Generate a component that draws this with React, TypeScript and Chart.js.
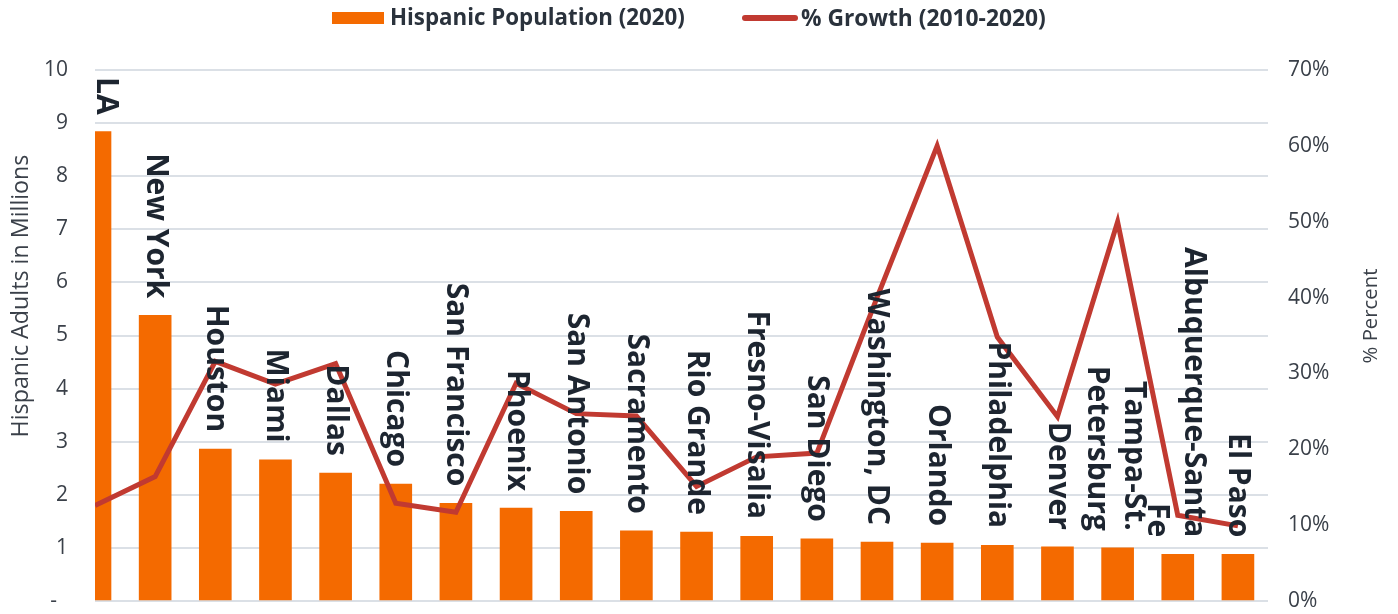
import React, { useEffect, useRef } from 'react';
import { Chart, registerables } from 'chart.js';

Chart.register(...registerables);

// ---- Data ----
const categories: (string | string[])[] = [
  'LA', 'New York', 'Houston', 'Miami', 'Dallas', 'Chicago', 'San Francisco',
  'Phoenix', 'San Antonio', 'Sacramento', 'Rio Grande', 'Fresno-Visalia',
  'San Diego', 'Washington, DC', 'Orlando', 'Philadelphia', 'Denver',
  ['Tampa-St.', 'Petersburg'], ['Albuquerque-Santa', 'Fe'], 'El Paso',
];
const population = [
  8.84, 5.38, 2.86, 2.66, 2.41, 2.2, 1.84, 1.75, 1.69, 1.32,
  1.3, 1.22, 1.17, 1.11, 1.09, 1.05, 1.02, 1.0, 0.88, 0.88,
];
const growth = [
  12.6, 16.4, 31.6, 28.6, 31.3, 12.9, 11.7, 28.7, 24.7, 24.4,
  15.1, 19.0, 19.5, 40.0, 60.0, 34.8, 24.3, 50.0, 11.3, 9.9,
];
const seriesNames = ['Hispanic Population (2020)', '% Growth (2010-2020)'];
const leftAxisTitle = 'Hispanic Adults in Millions';
const rightAxisTitle = '% Percent';

const W = 1398;
const H = 614;
const FONT = '"Open Sans", sans-serif';
const BAR_COLOR = '#F46A00';
const LINE_COLOR = '#C13A31';
const LABEL_COLOR = '#1d2530';
const TEXT_COLOR = '#3a4049';

function fitSize(ctx: CanvasRenderingContext2D, text: string, weight: number, target: number) {
  ctx.font = `${weight} 20px ${FONT}`;
  const w = ctx.measureText(text).width;
  return (20 * target) / w;
}

const labelPlugin = {
  id: 'catLabels',
  afterDatasetsDraw(chart: any) {
    const ctx: CanvasRenderingContext2D = chart.ctx;
    const meta = chart.getDatasetMeta(1);
    const area = chart.chartArea;
    ctx.save();
    ctx.font = `700 30px ${FONT}`;
    ctx.fillStyle = LABEL_COLOR;
    ctx.textAlign = 'right';
    ctx.textBaseline = 'middle';
    meta.data.forEach((bar: any, i: number) => {
      const c = categories[i];
      const lines = Array.isArray(c) ? c : [c];
      const lh = 37;
      const half = ((lines.length - 1) * lh) / 2;
      let cx = bar.x - (lines.length > 1 ? 3 : 0);
      cx = Math.max(cx, area.left + 11 + half);
      const endY = bar.y - 17;
      ctx.save();
      ctx.translate(cx, endY);
      ctx.rotate(Math.PI / 2);
      lines.forEach((ln, k) => ctx.fillText(ln, 0, -half + k * lh));
      ctx.restore();
    });
    ctx.restore();
  },
};

const decorPlugin = {
  id: 'decor',
  afterDraw(chart: any) {
    const ctx: CanvasRenderingContext2D = chart.ctx;
    ctx.save();
    // Legend
    ctx.fillStyle = BAR_COLOR;
    ctx.fillRect(332, 12, 52, 12);
    ctx.fillStyle = '#2a323c';
    ctx.textAlign = 'left';
    ctx.textBaseline = 'middle';
    let s = fitSize(ctx, seriesNames[0], 700, 295);
    ctx.font = `700 ${s}px ${FONT}`;
    ctx.fillText(seriesNames[0], 390, 19);
    ctx.strokeStyle = LINE_COLOR;
    ctx.lineWidth = 6;
    ctx.lineCap = 'round';
    ctx.beginPath();
    ctx.moveTo(745, 18);
    ctx.lineTo(795, 18);
    ctx.stroke();
    s = fitSize(ctx, seriesNames[1], 700, 245);
    ctx.font = `700 ${s}px ${FONT}`;
    ctx.fillText(seriesNames[1], 801, 19);

    // Axis titles
    ctx.fillStyle = TEXT_COLOR;
    ctx.textAlign = 'center';
    s = fitSize(ctx, leftAxisTitle, 400, 283);
    ctx.font = `400 ${s}px ${FONT}`;
    ctx.save();
    ctx.translate(21, 296);
    ctx.rotate(-Math.PI / 2);
    ctx.fillText(leftAxisTitle, 0, 0);
    ctx.restore();
    s = fitSize(ctx, rightAxisTitle, 400, 95);
    ctx.font = `400 ${s}px ${FONT}`;
    ctx.save();
    ctx.translate(1371, 316);
    ctx.rotate(-Math.PI / 2);
    ctx.fillText(rightAxisTitle, 0, 0);
    ctx.restore();
    ctx.restore();
  },
};

export default function App() {
  const canvasRef = useRef<HTMLCanvasElement | null>(null);

  useEffect(() => {
    const canvas = canvasRef.current;
    if (!canvas) return;
    const chart = new Chart(canvas, {
      type: 'bar',
      data: {
        datasets: [
          {
            type: 'line',
            label: seriesNames[1],
            data: growth.map((g, i) => ({ x: i, y: g })),
            yAxisID: 'y1',
            xAxisID: 'x',
            borderColor: LINE_COLOR,
            backgroundColor: LINE_COLOR,
            borderWidth: 5,
            pointRadius: 0,
            tension: 0,
            clip: 0,
            order: 0,
          } as any,
          {
            type: 'bar',
            label: seriesNames[0],
            data: population.map((p, i) => ({ x: i, y: p })),
            yAxisID: 'y',
            xAxisID: 'x',
            backgroundColor: BAR_COLOR,
            barThickness: 32,
            clip: 0,
            order: 1,
          } as any,
        ],
      },
      options: {
        animation: false,
        responsive: false,
        maintainAspectRatio: false,
        devicePixelRatio: 1,
        layout: { padding: { left: 0, right: 0, top: 70, bottom: 13 } },
        plugins: {
          legend: { display: false },
          tooltip: { enabled: false },
        },
        scales: {
          x: {
            type: 'linear',
            min: 0,
            max: 19.5,
            offset: false,
            grid: { offset: false, display: false },
            display: false,
          },
          y: {
            position: 'left',
            min: 0,
            max: 10,
            afterFit: (scale: any) => {
              scale.width = 95;
              scale.paddingTop = 0;
              scale.paddingBottom = 0;
            },
            ticks: {
              stepSize: 1,
              padding: 27,
              color: TEXT_COLOR,
              font: { family: FONT, size: 21 },
              callback: (v: any) => (Number(v) === 0 ? '-  ' : String(v)),
            },
            grid: { color: '#dbe0e6', lineWidth: 2, drawTicks: false },
            border: { display: false },
          },
          y1: {
            position: 'right',
            min: 0,
            max: 70,
            afterFit: (scale: any) => {
              scale.width = 130;
              scale.paddingTop = 0;
              scale.paddingBottom = 0;
            },
            ticks: {
              stepSize: 10,
              padding: 20,
              color: TEXT_COLOR,
              font: { family: FONT, size: 21 },
              callback: (v: any) => `${v}%`,
            },
            grid: { drawOnChartArea: false, drawTicks: false },
            border: { display: false },
          },
        },
      } as any,
      plugins: [labelPlugin, decorPlugin],
    });
    return () => chart.destroy();
  }, []);

  return (
    <div style={{ position: 'fixed', left: 0, top: 0, width: W, height: H, background: '#fff' }}>
      <canvas ref={canvasRef} width={W} height={H} style={{ display: 'block', width: W, height: H }} />
    </div>
  );
}
